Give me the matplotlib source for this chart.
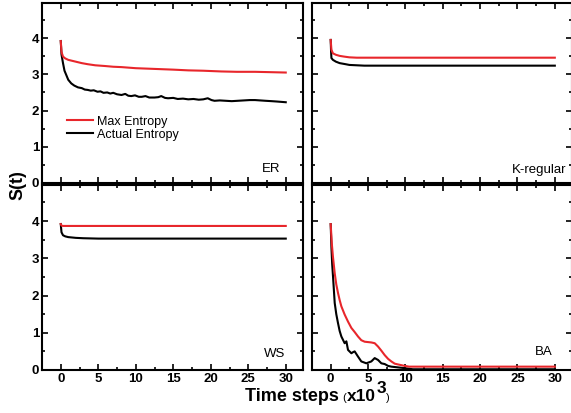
import numpy as np
import matplotlib
matplotlib.use("Agg")
import matplotlib.pyplot as plt

plt.rcParams["font.family"] = "Liberation Sans"

# time steps in units of 10^3, entropy S(t)
er_max_t = [0, 0.1, 0.3, 0.6, 1.0, 1.4, 2.0, 2.8, 3.6, 4.6, 5.9, 7.0, 8.1, 10.0, 12.5,
            15.0, 17.0, 19.0, 21.4, 23.5, 25.9, 28.0, 30.0]
er_max_s = [3.92, 3.62, 3.49, 3.44, 3.40, 3.38, 3.35, 3.31, 3.28, 3.25, 3.23, 3.21, 3.20, 3.17, 3.15,
            3.13, 3.11, 3.10, 3.08, 3.07, 3.07, 3.06, 3.05]
er_act_t = [0, 0.1, 0.3, 0.5, 0.8, 1.0, 1.4, 1.8, 2.3, 2.8, 3.2, 3.6, 4.0, 4.4, 4.9, 5.3, 5.7, 6.2,
            6.6, 7.0, 7.5, 8.1, 8.6, 9.0, 9.4, 9.9, 10.4, 10.8, 11.3, 11.8, 12.5, 13.0, 13.4, 13.9,
            14.3, 15.0, 15.6, 16.3, 17.0, 17.7, 18.4, 19.0, 19.6, 20.1, 20.5, 21.2, 22.0, 22.8,
            23.6, 24.4, 25.2, 25.9, 26.6, 27.3, 28.1, 28.8, 29.4, 30.0]
er_act_s = [3.92, 3.55, 3.31, 3.10, 2.95, 2.85, 2.75, 2.69, 2.64, 2.62, 2.58, 2.57, 2.55, 2.56, 2.52,
            2.53, 2.49, 2.50, 2.47, 2.49, 2.45, 2.43, 2.46, 2.41, 2.40, 2.42, 2.38, 2.38, 2.40, 2.36,
            2.36, 2.37, 2.40, 2.35, 2.34, 2.35, 2.32, 2.33, 2.31, 2.32, 2.30, 2.31, 2.34, 2.29, 2.27,
            2.28, 2.27, 2.26, 2.27, 2.28, 2.29, 2.29, 2.28, 2.27, 2.26, 2.25, 2.24, 2.23]

kr_max_t = [0, 0.1, 0.3, 0.7, 1.2, 1.8, 2.5, 3.5, 30]
kr_max_s = [3.95, 3.68, 3.58, 3.54, 3.51, 3.49, 3.47, 3.46, 3.46]
kr_act_t = [0, 0.05, 0.1, 0.3, 0.7, 1.2, 2.0, 2.5, 3.5, 4.5, 30]
kr_act_s = [3.95, 3.65, 3.45, 3.40, 3.35, 3.31, 3.28, 3.26, 3.25, 3.24, 3.24]

ws_max_t = [0, 0.1, 0.3, 30]
ws_max_s = [3.92, 3.88, 3.87, 3.87]
ws_act_t = [0, 0.1, 0.3, 0.6, 1.0, 2.0, 3.0, 5.0, 30]
ws_act_s = [3.92, 3.70, 3.62, 3.59, 3.57, 3.55, 3.54, 3.53, 3.53]

ba_max_t = [0, 0.15, 0.3, 0.54, 0.75, 0.98, 1.2, 1.43, 1.87, 2.32, 2.77, 3.21, 3.66, 4.1, 4.55,
            5.0, 5.44, 5.89, 6.34, 6.78, 7.23, 7.68, 8.12, 8.57, 9.0, 9.46, 9.9, 10.5, 30]
ba_max_s = [3.92, 3.40, 3.05, 2.60, 2.30, 2.07, 1.88, 1.71, 1.49, 1.30, 1.13, 1.02, 0.90, 0.80, 0.76,
            0.75, 0.74, 0.72, 0.63, 0.52, 0.40, 0.30, 0.23, 0.17, 0.15, 0.13, 0.11, 0.09, 0.09]
ba_act_t = [0, 0.1, 0.2, 0.31, 0.54, 0.75, 0.98, 1.2, 1.43, 1.87, 2.1, 2.32, 2.77, 3.0, 3.21,
            3.66, 4.1, 4.77, 5.44, 5.89, 6.34, 6.78, 7.23, 7.68, 8.12, 9.0, 9.9, 11.0, 30]
ba_act_s = [3.92, 3.30, 2.85, 2.52, 1.80, 1.50, 1.26, 1.05, 0.90, 0.72, 0.77, 0.54, 0.45, 0.48, 0.50,
            0.36, 0.23, 0.18, 0.23, 0.32, 0.27, 0.18, 0.16, 0.11, 0.09, 0.07, 0.05, 0.02, 0.02]

red = '#e8262b'
W, H = 571, 413

fig = plt.figure(figsize=(W / 100, H / 100), dpi=100)

# axes rectangles in pixels: left, top, right, bottom
boxes = [(42, 3, 303, 183), (312, 3, 572, 183), (42, 185, 303, 370), (312, 185, 572, 370)]
panels = [
    ("ER", er_max_t, er_max_s, er_act_t, er_act_s, (0.912, 0.061)),
    ("K-regular", kr_max_t, kr_max_s, kr_act_t, kr_act_s, (0.977, 0.055)),
    ("WS", ws_max_t, ws_max_s, ws_act_t, ws_act_s, (0.931, 0.070)),
    ("BA", ba_max_t, ba_max_s, ba_act_t, ba_act_s, (0.927, 0.081)),
]

axes = []
for i, (l, t, r, b) in enumerate(boxes):
    ax = fig.add_axes([l / W, 1 - b / H, (r - l) / W, (b - t) / H])
    name, mt, ms, at, as_, pos = panels[i]
    ax.plot(mt, ms, color=red, lw=1.5, label="Max Entropy", zorder=3)
    ax.plot(at, as_, color='black', lw=1.5, label="Actual Entropy", zorder=2)
    ax.set_xlim(-2.5, 32.3)
    ax.set_ylim(0, 4.97)
    ax.set_xticks([0, 5, 10, 15, 20, 25, 30])
    ax.set_xticks(np.arange(2.5, 30, 5), minor=True)
    ax.set_yticks([0, 1, 2, 3, 4])
    ax.set_yticks(np.arange(0.5, 5, 1), minor=True)
    ax.tick_params(which='both', direction='in', top=True, right=True, width=1.2,
                   labelsize=9.5, pad=2)
    ax.tick_params(which='major', length=4)
    ax.tick_params(which='minor', length=2.5)
    for lab in ax.get_xticklabels() + ax.get_yticklabels():
        lab.set_fontweight('bold')
    for sp in ax.spines.values():
        sp.set_linewidth(1.5)
    if i % 2 == 1:
        ax.tick_params(labelleft=False)
    if i < 2:
        ax.tick_params(labelbottom=False)
    ax.text(pos[0], pos[1], name, transform=ax.transAxes, ha='right', va='baseline', fontsize=9.5)
    axes.append(ax)

axes[0].legend(loc='upper left', bbox_to_anchor=(0.096, 0.375), frameon=False, fontsize=9,
               handlelength=2.1, handletextpad=0.3, labelspacing=0.1, borderpad=0,
               borderaxespad=0)

fig.text(18 / W, 1 - 185 / H, "S(t)", rotation=90, ha='center', va='center',
         fontsize=13, fontweight='bold')

# x label "Time steps (x10^3)" built from pieces, placed by pixel
base_y = 1 - 401 / H
parts = [(245, "Time steps", 13, 'bold', 0), (342, "(", 8, 'normal', 0),
         (347, "x10", 12.5, 'bold', 0), (377, "3", 12.5, 'bold', 8), (386, ")", 8, 'normal', 0)]
for px, s, size, weight, raise_px in parts:
    fig.text(px / W, base_y + raise_px / H, s, ha='left', va='baseline',
             fontsize=size, fontweight=weight)

fig.savefig('out.png', dpi=100)
